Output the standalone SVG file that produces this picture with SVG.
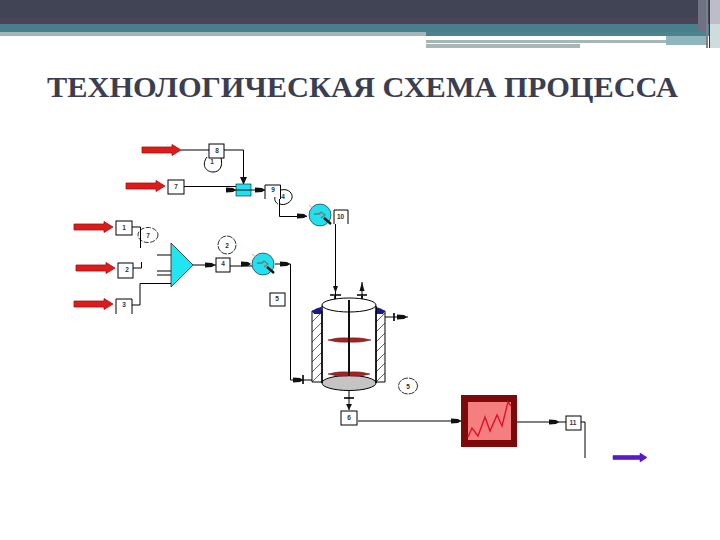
<svg xmlns="http://www.w3.org/2000/svg" width="720" height="540" viewBox="0 0 720 540">
<style>
.l{fill:none;stroke:#000;stroke-width:1}
.h{fill:none;stroke:#000;stroke-width:1.6}
.b{fill:#fff;stroke:#000;stroke-width:1}
.t{font-family:"Liberation Sans",Arial,sans-serif;font-size:6.5px;font-weight:bold;text-anchor:middle;fill:#333}
.red{fill:#de1a1a;stroke:#a01414;stroke-width:.8}
.ex{fill:#22e0f0;stroke:#111;stroke-width:.6}
</style>
<defs>
<path id="ar" d="M0-3H30V-5.500L39 0 30 5.500V3H0Z"/>
<path id="sm" d="M-5-2.500L2-2 5 0 2 2-5 2.500Z" fill="#111"/>
<g id="hx"><circle r="11" class="ex"/><path d="M-11-10L8 6" stroke="#d98a8a" stroke-width=".8" fill="none"/><path d="M-6-1H-1L1-3 5 0 1 3" fill="none" stroke="#4a8a80" stroke-width="1.300"/><path d="M4 3L11 9" stroke="#111" stroke-width="2.400"/></g>
</defs>
<rect width="720" height="540" fill="#fff"/>
<g id="banner">
<rect width="720" height="24" fill="#414455"/>
<rect y="18" width="720" height="6" fill="#4b4356"/>
<rect y="24" width="720" height="8" fill="#47808c"/>
<rect y="32" width="426" height="4" fill="#a4b6bc"/>
<rect x="426" y="32" width="294" height="4" fill="#4d838e"/>
<rect x="426" y="36" width="240" height="3" fill="#fff"/>
<rect x="426" y="40" width="240" height="3" fill="#a7b5b4"/>
<rect x="426" y="44" width="154" height="4" fill="#a7b7b7"/>
<rect x="666" y="36" width="40" height="9" fill="#8fb5bd"/>
<rect x="698" width="8" height="32" fill="#6f7282"/>
<rect x="706" width="2" height="48" fill="#7f7f90"/>
<rect x="709" width="1" height="48" fill="#33364a"/>
<rect x="710" width="10" height="24" fill="#bdbdca"/>
<rect x="710" y="24" width="10" height="24" fill="#cfdcdd"/>
</g>
<text x="47" y="97" textLength="631" lengthAdjust="spacingAndGlyphs" font-family="Liberation Serif,serif" font-size="28.500" font-weight="bold" fill="#3a3e50">ТЕХНОЛОГИЧЕСКАЯ СХЕМА ПРОЦЕССА</text>
<g id="connectors">
<path class="l" d="M181 150H209M224 150H243.500V179"/>
<path class="l" d="M184 186.500H236M226 190H236M251 190H265"/>
<path class="l" d="M279.500 199V216.500H307"/>
<path class="l" d="M132 227H140.500V248M133 268H141.500V262"/>
<path class="l" d="M132 305H140V283.500H171"/>
<path class="l" d="M157 255H171M157 271H171M157 275H171"/>
<path class="l" d="M193 265H216M230 266H252M275 264H290.500V380H312"/>
<path class="l" d="M335.500 224V302M362 302V282"/>
<path class="h" d="M335 296V305M330 295H341M362 296V305M357 295H367"/>
<path class="l" d="M385 317H408"/>
<path class="h" d="M394 313V321M303 375V384"/>
<path class="l" d="M349 390V410"/>
<path class="h" d="M344 398H354"/>
<path class="l" d="M358 421H462M517 422H566M581 422H585V458"/>
<use href="#sm" x="231" y="190"/><use href="#sm" x="260" y="190"/>
<path d="M240 177H247L243.500 185Z" fill="#111"/>
<use href="#sm" x="302" y="216"/>
<use href="#sm" x="210" y="265"/><use href="#sm" x="246" y="264"/><use href="#sm" x="285" y="264"/>
<path d="M333 286H338L335.500 293Z" fill="#111"/><path d="M359.500 291H364.500L362 282Z" fill="#111"/>
<use href="#sm" x="402" y="317"/><use href="#sm" x="298" y="380"/>
<path d="M346 404H352L349 410Z" fill="#111"/>
<use href="#sm" x="456" y="421"/><use href="#sm" x="554" y="422"/>
</g>
<g id="feed-arrows">
<use href="#ar" class="red" x="142" y="150"/>
<use href="#ar" class="red" x="126" y="186"/>
<use href="#ar" class="red" x="74" y="227"/>
<use href="#ar" class="red" x="76" y="268"/>
<use href="#ar" class="red" x="74" y="304"/>
<path d="M613 455.500H640V453L647 457.500 640 462V459.500H613Z" fill="#5a1ac8" stroke="#3a1090" stroke-width=".5"/>
</g>
<g id="n8"><rect class="b" x="209" y="144" width="15" height="14"/><text class="t" x="217" y="153">8</text></g>
<g id="c1"><path class="l" d="M207 157C201 165 206 172 213 172S223 166 221 158"/><text class="t" x="212" y="164">1</text></g>
<g id="n7"><rect class="b" x="168" y="180" width="16" height="14"/><text class="t" x="176" y="189">7</text></g>
<g id="mixer"><rect x="236" y="184" width="15" height="12" class="ex"/><path d="M236 190H251" stroke="#111"/></g>
<g id="n9"><path class="l" d="M265 199V185H280.500V199"/><text class="t" x="273" y="192">9</text></g>
<g id="c4"><path class="l" d="M281 190C289 188 293 194 292 198S285 206 280 204M275 197C274 200 276 203 278 204"/><text class="t" x="283" y="199">4</text></g>
<g id="hx1"><use href="#hx" x="320" y="215"/></g>
<g id="n10"><path class="l" d="M334 224V210H348V224"/><text class="t" x="340.500" y="219">10</text></g>
<g id="n1"><rect class="b" x="116" y="221" width="16" height="14"/><text class="t" x="124" y="230">1</text></g>
<g id="c7"><ellipse cx="148" cy="235" rx="10" ry="7.500" fill="none" stroke="#000" stroke-width=".8" stroke-dasharray="5 1.500"/><text class="t" x="148" y="237.500">7</text></g>
<g id="n2"><rect class="b" x="118" y="263" width="15" height="15"/><text class="t" x="127" y="272">2</text></g>
<g id="n3"><path class="l" d="M116 314V299H132V314"/><text class="t" x="124" y="307">3</text></g>
<g id="mix-tri"><path d="M171 243L193 265 171 287Z" fill="#1fe6f0" stroke="#222" stroke-width=".8"/></g>
<g id="c2"><circle cx="227" cy="245" r="9" fill="none" stroke="#000" stroke-width=".8" stroke-dasharray="6 1"/><text class="t" x="227" y="247.500">2</text></g>
<g id="n4"><rect class="b" x="216" y="258" width="14" height="14"/><text class="t" x="223" y="266">4</text></g>
<g id="hx2"><use href="#hx" x="263" y="264"/></g>
<g id="n5"><rect class="b" x="270" y="293" width="15" height="13"/><text class="t" x="277" y="301">5</text></g>
<g id="reactor">
<path d="M312 311H322V382H312Z" fill="#fff" stroke="#000"/>
<path d="M376 311H385V382H376Z" fill="#fff" stroke="#000"/>
<path d="M312 322L322 312M312 332L322 322M312 342L322 332M312 352L322 342M312 362L322 352M312 372L322 362M312 382L322 372M376 322L385 313M376 332L385 323M376 342L385 333M376 352L385 343M376 362L385 353M376 372L385 363M376 382L385 373" stroke="#222" stroke-width=".7"/>
<path d="M312 311Q316 308 321 307V314H314ZM376 307Q381 308 385 311L383 314H376Z" fill="#1a1a90"/>
<ellipse cx="349" cy="383" rx="27" ry="7.500" fill="#c4c4c4" stroke="#000"/>
<path d="M322 305A27 7 0 0 1 376 305A27 7 0 0 1 322 305Z" fill="#fff" stroke="#000"/>
<path d="M322 306V383M376 306V383" stroke="#000" stroke-width="1.500"/>
<path d="M349 300V376" stroke="#000" stroke-width="1.500"/>
<path d="M328 340Q338 337 349 338V342Q338 343 328 340ZM349 338Q360 337 371 340Q360 343 349 342ZM328 374Q338 371 349 372V376Q338 377 328 374ZM349 372Q360 371 370 374Q360 377 349 376Z" fill="#a52222" stroke="#702020" stroke-width=".6"/>
<path d="M349 300V376" stroke="#000" stroke-width="1.500"/>
</g>
<g id="c5"><ellipse cx="408" cy="386" rx="9.500" ry="8" fill="none" stroke="#000" stroke-width=".8" stroke-dasharray="6 1"/><text class="t" x="408" y="388.500">5</text></g>
<g id="n6"><rect class="b" x="341" y="411" width="16" height="14"/><text class="t" x="349" y="420">6</text></g>
<g id="furnace">
<rect x="461" y="395" width="56" height="52" fill="#7c0a0a"/>
<rect x="468" y="402" width="43" height="38" fill="#f57f7f"/>
<path d="M468 437L472 428 478 436 485 417 490 431 497 415 502 426 508 402 511 406" fill="none" stroke="#e01028" stroke-width="1.400"/>
</g>
<g id="n11"><rect class="b" x="566" y="416" width="15" height="14"/><text class="t" x="573" y="425">11</text></g>
</svg>
